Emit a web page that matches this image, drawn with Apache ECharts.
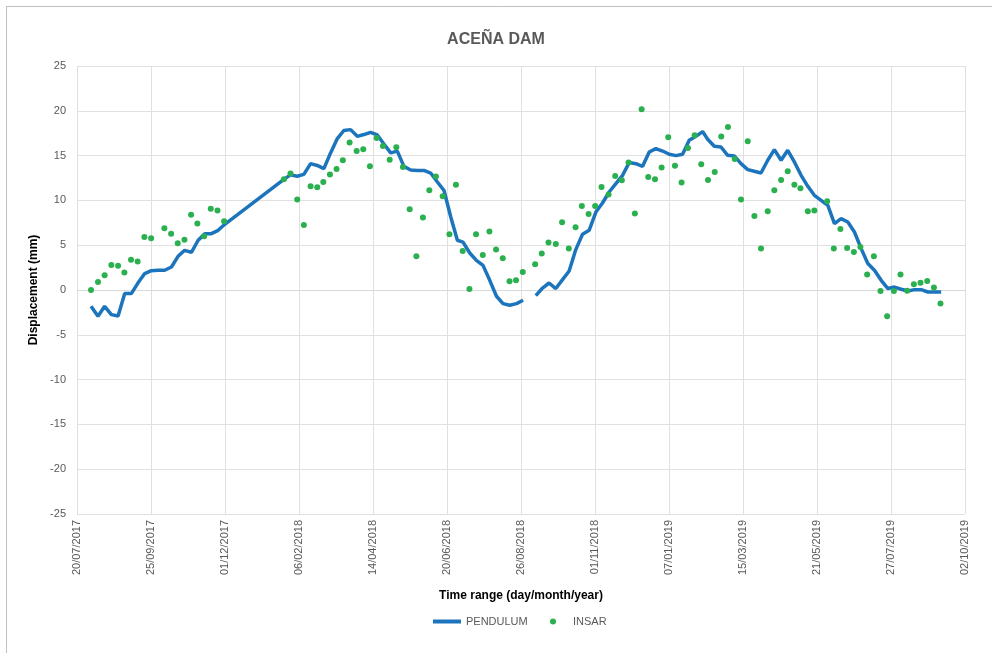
<!DOCTYPE html>
<html>
<head>
<meta charset="utf-8">
<script src="https://cdn.jsdelivr.net/npm/echarts@6/dist/echarts.min.js"></script>
<style>
html,body{margin:0;padding:0;background:#fff;}
#chart{width:992px;height:653px;}
</style>
</head>
<body>
<div id="chart"></div>
<script>
// Days elapsed since 20/07/2017
var startDate = '2017-07-20';
var pendulumDays = [12.7,19.0,25.0,31.1,37.2,43.2,49.2,55.3,61.3,67.3,73.4,79.4,85.5,91.5,97.5,103.6,109.7,115.7,121.7,127.8,133.8,
  187.3,193.3,199.4,205.4,211.5,217.5,223.5,229.6,235.7,241.6,247.7,253.8,259.8,265.8,271.9,277.9,284.0,290.0,296.0,302.1,308.2,314.1,320.2,326.3,332.3,338.4,344.4,349.5,355.6,361.6,367.6,373.7,379.8,385.7,391.8,397.9,403.9,409.8,
  415.4,421.5,427.4,433.5,439.6,445.6,451.6,457.7,463.7,469.8,475.8,481.8,487.9,494.0,499.9,506.0,512.1,518.1,524.1,530.2,536.2,542.3,548.3,554.3,560.4,566.4,571.0,577.0,583.1,589.1,595.1,601.2,607.3,613.2,619.3,625.4,631.4,637.5,643.5,649.5,655.6,661.7,667.6,673.7,679.8,685.8,691.8,697.9,703.9,710.0,716.0,722.0,728.1,734.2,740.1,746.2,752.3,758.3,764.3,770.4,776.4,782.4];
var pendulumValues = [-1.82,-2.93,-1.82,-2.75,-2.9,-0.4,-0.4,0.8,1.83,2.16,2.2,2.2,2.57,3.76,4.43,4.2,5.55,6.29,6.29,6.66,7.33,
  12.35,12.85,12.7,12.9,14.1,13.9,13.55,15.3,16.9,17.8,17.9,17.15,17.35,17.6,17.3,16.3,15.3,15.5,13.8,13.4,13.35,13.35,13.05,12.05,11.1,8.15,5.55,5.35,4.13,3.3,2.75,1.08,-0.7,-1.52,-1.7,-1.52,-1.15,null,
  -0.62,0.22,0.78,0.16,1.16,2.12,4.51,6.22,6.66,8.7,9.71,10.94,11.87,12.8,14.22,14.1,13.8,15.4,15.78,15.51,15.15,15.0,15.15,16.7,17.15,17.68,16.82,16.04,15.96,15.03,14.96,14.1,13.44,13.25,13.06,14.48,15.67,14.48,15.59,14.29,12.8,11.57,10.57,10.01,9.45,7.41,7.97,7.59,6.47,4.62,2.95,2.2,1.08,0.16,0.33,0.08,-0.11,0.04,0.04,-0.22,-0.22,-0.22];

var insarDays = [12.7,19.0,25.0,31.1,37.2,42.9,48.9,54.9,61.0,67.1,79.1,85.2,91.2,97.3,103.3,109.0,115.1,121.1,127.2,133.2,
  187.3,193.3,199.4,205.4,211.5,217.5,223.0,229.0,235.0,240.7,246.8,253.2,259.2,265.2,271.3,277.0,283.1,289.1,295.1,301.2,307.3,313.2,319.0,325.0,331.1,337.2,343.1,349.2,355.3,361.3,367.4,373.4,379.4,385.5,391.6,397.5,403.6,
  414.8,420.8,426.9,433.5,439.2,445.3,451.4,457.1,463.2,469.1,474.9,481.3,487.3,493.3,499.4,505.1,511.2,517.2,523.3,529.3,535.3,541.4,547.4,553.2,559.2,565.2,571.3,577.4,583.3,589.4,595.5,601.2,607.3,613.3,619.3,625.4,631.4,637.5,643.5,649.5,655.0,661.7,667.6,679.2,685.2,691.2,697.3,703.4,709.3,715.4,721.5,727.5,733.5,739.6,745.6,751.6,757.7,763.7,769.8,775.9,781.8];
var insarValues = [0.0,0.9,1.64,2.79,2.72,1.94,3.39,3.17,5.92,5.77,6.89,6.29,5.21,5.62,8.41,7.41,5.99,9.08,8.86,7.67,
  12.35,12.99,10.09,7.25,11.57,11.46,12.05,12.88,13.5,14.47,16.45,15.51,15.7,13.8,16.96,16.07,14.55,15.93,13.73,9.01,3.76,8.08,11.13,12.66,10.46,6.22,11.76,4.35,0.11,6.22,3.91,6.52,4.51,3.54,0.97,1.08,2.01,
  2.87,4.06,5.29,5.13,7.56,4.62,7.0,9.38,8.48,9.38,11.5,10.65,12.72,12.24,14.22,8.53,20.17,12.61,12.35,13.66,17.04,13.88,11.99,15.85,17.27,14.03,12.28,13.17,17.12,18.19,14.62,10.09,16.6,8.26,4.62,8.78,11.13,12.28,13.25,11.76,11.35,8.78,8.86,9.9,4.62,6.81,4.69,4.24,4.8,1.72,3.76,-0.11,-2.94,-0.11,1.72,-0.07,0.64,0.82,1.0,0.27,-1.52];

var xTickStepDays = 67;
var xTickCount = 12;
var yMin = -25, yMax = 25, yStep = 5;

var t0 = Date.parse(startDate + 'T00:00:00Z');
function fmtDate(v) {
  var d = new Date(t0 + Math.round(v) * 86400000);
  var dd = String(d.getUTCDate()).padStart(2, '0');
  var mm = String(d.getUTCMonth() + 1).padStart(2, '0');
  return dd + '/' + mm + '/' + d.getUTCFullYear();
}

var pendData = pendulumDays.map(function (d, i) { return [d, pendulumValues[i] === null ? '-' : pendulumValues[i]]; });
var insarData = insarDays.map(function (d, i) { return [d, insarValues[i]]; });

var FONT = 'Liberation Sans, Arial, sans-serif';
var BLUE = '#1c75bc', GREEN = '#2bb04f';
var chart = echarts.init(document.getElementById('chart'), null, { renderer: 'canvas' });
chart.setOption({
  backgroundColor: '#ffffff',
  animation: false,
  title: {
    text: 'ACEÑA DAM',
    left: 'center',
    top: 27,
    textStyle: { fontFamily: FONT, fontSize: 16, fontWeight: 'bold', color: '#595959' }
  },
  graphic: [{
    type: 'rect', left: 4, top: 4, shape: { width: 1100, height: 800 },
    style: { fill: 'none', stroke: '#bfbfbf', lineWidth: 1 }, silent: true, z: -1
  }],
  legend: [
    {
      left: 433, top: 616, padding: 0,
      itemWidth: 28, itemHeight: 4,
      textStyle: { fontFamily: FONT, fontSize: 11, color: '#595959' },
      data: [{ name: 'PENDULUM', icon: 'rect', itemStyle: { color: BLUE } }]
    },
    {
      left: 550, top: 616, padding: 0,
      itemWidth: 30, itemHeight: 6,
      textStyle: { fontFamily: FONT, fontSize: 11, color: '#595959' },
      data: [{ name: 'INSAR', icon: 'circle' }]
    }
  ],
  grid: { left: 77, right: 27, top: 66, bottom: 139, containLabel: false },
  xAxis: {
    type: 'value',
    min: 0,
    max: xTickStepDays * xTickCount,
    interval: xTickStepDays,
    name: 'Time range (day/month/year)',
    nameLocation: 'middle',
    nameGap: 76,
    nameTextStyle: { fontFamily: FONT, fontSize: 12, fontWeight: 'bold', color: '#000' },
    axisLine: { show: true, lineStyle: { color: '#d9d9d9', width: 1 } },
    axisTick: { show: false },
    splitLine: { show: true, lineStyle: { color: '#e0e0e0', width: 1 } },
    axisLabel: {
      rotate: 90,
      margin: 6,
      fontFamily: FONT,
      fontSize: 11,
      color: '#595959',
      formatter: fmtDate
    }
  },
  yAxis: {
    type: 'value',
    min: yMin,
    max: yMax,
    interval: yStep,
    name: 'Displacement (mm)',
    nameLocation: 'middle',
    nameGap: 32,
    nameRotate: 90,
    nameTextStyle: { fontFamily: FONT, fontSize: 12, fontWeight: 'bold', color: '#000' },
    axisLine: { show: false },
    axisTick: { show: false },
    splitLine: { show: true, lineStyle: { color: '#e0e0e0', width: 1 } },
    axisLabel: { margin: 11, fontFamily: FONT, fontSize: 11, color: '#595959' }
  },
  series: [
    {
      name: 'PENDULUM',
      type: 'line',
      data: pendData,
      showSymbol: false,
      symbol: 'none',
      connectNulls: false,
      lineStyle: { color: BLUE, width: 3.5 },
      itemStyle: { color: BLUE },
      z: 2
    },
    {
      name: 'INSAR',
      type: 'scatter',
      data: insarData,
      symbol: 'circle',
      symbolSize: 6,
      itemStyle: { color: GREEN, opacity: 1 },
      z: 3
    }
  ]
});
</script>
</body>
</html>
